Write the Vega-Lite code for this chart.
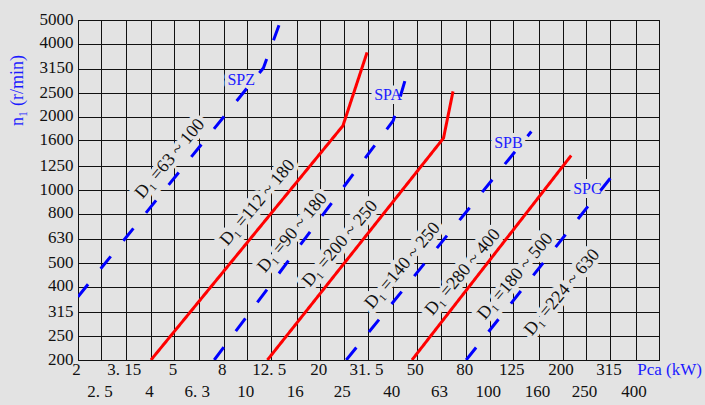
{
  "$schema": "https://vega.github.io/schema/vega-lite/v6.json",
  "width": 581,
  "height": 340,
  "autosize": {"type": "none"},
  "padding": {"left": 78, "top": 20, "right": 46, "bottom": 45},
  "background": "#e3e3e3",
  "config": {
    "view": {"stroke": "#111111", "strokeWidth": 1},
    "font": "Liberation Serif"
  },
  "datasets": {
    "lines": [
      {"s": "r1", "k": "red", "x": 4, "y": 200},
      {"s": "r1", "k": "red", "x": 24.8, "y": 1837},
      {"s": "r1", "k": "red", "x": 31.2, "y": 3680},
      {"s": "r2", "k": "red", "x": 12.1, "y": 200},
      {"s": "r2", "k": "red", "x": 64.5, "y": 1634},
      {"s": "r2", "k": "red", "x": 70.6, "y": 2543},
      {"s": "r3", "k": "red", "x": 47.8, "y": 200},
      {"s": "r3", "k": "red", "x": 217, "y": 1386},
      {"s": "SPZ", "k": "blue", "x": 2, "y": 364},
      {"s": "SPZ", "k": "blue", "x": 11.65, "y": 3177},
      {"s": "SPZ", "k": "blue", "x": 13.6, "y": 4850},
      {"s": "SPA", "k": "blue", "x": 7.3, "y": 200},
      {"s": "SPA", "k": "blue", "x": 40, "y": 1928},
      {"s": "SPA", "k": "blue", "x": 46.4, "y": 3186},
      {"s": "SPB", "k": "blue", "x": 25.6, "y": 200},
      {"s": "SPB", "k": "blue", "x": 148.6, "y": 1740},
      {"s": "SPC", "k": "blue", "x": 80, "y": 200},
      {"s": "SPC", "k": "blue", "x": 337.8, "y": 1222}
    ],
    "dl": [
      {"t": "D₁ =63 ~ 100", "x": 4.8, "y": 1344},
      {"t": "D₁ =112 ~ 180", "x": 11.03, "y": 886},
      {"t": "D₁ =90 ~ 180", "x": 15.38, "y": 667},
      {"t": "D₁ =200 ~ 250", "x": 24.16, "y": 601},
      {"t": "D₁ =140 ~ 250", "x": 43.8, "y": 488},
      {"t": "D₁ =280 ~ 400", "x": 77.5, "y": 459},
      {"t": "D₁ =180 ~ 500", "x": 127.7, "y": 441},
      {"t": "D₁ =224 ~ 630", "x": 199.1, "y": 379}
    ],
    "sp": [
      {"t": "SPZ", "x": 9.43, "y": 2843},
      {"t": "SPA", "x": 38.1, "y": 2466},
      {"t": "SPB", "x": 119.5, "y": 1564},
      {"t": "SPC", "x": 253.2, "y": 1012}
    ]
  },
  "encoding": {
    "x": {
      "field": "x",
      "type": "quantitative",
      "scale": {"type": "log", "domain": [2, 500], "nice": false},
      "axis": {
        "values": [2, 2.5, 3.15, 4, 5, 6.3, 8, 10, 12.5, 16, 20, 25, 31.5, 40, 50, 63, 80, 100, 125, 160, 200, 250, 315, 400, 500],
        "title": "Pca (kW)",
        "titleColor": "#1a1aff",
        "titleFont": "Liberation Serif",
        "titleFontSize": 17,
        "titleFontWeight": "normal",
        "titleX": 591,
        "titleY": 9,
        "titleAlign": "center",
        "titleBaseline": "middle",
        "titleAngle": 0,
        "grid": true,
        "gridColor": "#111111",
        "gridOpacity": 1,
        "gridWidth": 1,
        "ticks": false,
        "domain": false,
        "labelFont": "Liberation Serif",
        "labelFontSize": 17,
        "labelColor": "#111111",
        "labelOverlap": false,
        "labelFlush": false,
        "labelBound": false,
        "labelBaseline": "top",
        "labelOffset": -2,
        "labelExpr": "datum.value >= 500 ? '' : replace(toString(datum.value), '.', '. ')",
        "labelPadding": {
          "condition": {"test": "indexof([2.5,4,6.3,10,16,25,40,63,100,160,250,400], datum.value) >= 0", "value": 23},
          "value": 1
        }
      }
    },
    "y": {
      "field": "y",
      "type": "quantitative",
      "scale": {"type": "log", "domain": [200, 5000], "nice": false},
      "axis": {
        "values": [200, 250, 315, 400, 500, 630, 800, 1000, 1250, 1600, 2000, 2500, 3150, 4000, 5000],
        "format": "d",
        "title": "n₁ (r/min)",
        "titleColor": "#1a1aff",
        "titleFont": "Liberation Serif",
        "titleFontSize": 18,
        "titleFontWeight": "normal",
        "titleAngle": -90,
        "titleX": -61,
        "titleY": 70,
        "titleAlign": "center",
        "titleBaseline": "middle",
        "grid": true,
        "gridColor": "#111111",
        "gridOpacity": 1,
        "gridWidth": 1,
        "ticks": false,
        "domain": false,
        "labelFont": "Liberation Serif",
        "labelFontSize": 17,
        "labelColor": "#111111",
        "labelOverlap": false,
        "labelFlush": false,
        "labelBound": false,
        "labelPadding": 5,
        "labelOffset": -1
      }
    }
  },
  "layer": [
    {
      "data": {"name": "dl"},
      "mark": {"type": "text", "angle": -50, "fontSize": 18, "font": "Liberation Serif", "align": "center", "baseline": "middle", "fill": "#e3e3e3", "stroke": "#e3e3e3", "strokeWidth": 9, "strokeJoin": "round"},
      "encoding": {"text": {"field": "t"}}
    },
    {
      "data": {"name": "sp"},
      "mark": {"type": "text", "fontSize": 16, "font": "Liberation Serif", "align": "center", "baseline": "middle", "fill": "#e3e3e3", "stroke": "#e3e3e3", "strokeWidth": 8, "strokeJoin": "round"},
      "encoding": {"text": {"field": "t"}}
    },
    {
      "data": {"name": "lines"},
      "mark": {"type": "line", "strokeWidth": 3, "strokeCap": "butt", "clip": true},
      "encoding": {
        "detail": {"field": "s", "type": "nominal"},
        "color": {"field": "k", "type": "nominal", "scale": {"domain": ["red", "blue"], "range": ["#ff0000", "#0000ff"]}, "legend": null},
        "strokeDash": {"field": "k", "type": "nominal", "scale": {"domain": ["red", "blue"], "range": [[1, 0], [16, 20]]}, "legend": null}
      }
    },
    {
      "data": {"name": "dl"},
      "mark": {"type": "text", "angle": -50, "fontSize": 18, "font": "Liberation Serif", "align": "center", "baseline": "middle", "fill": "#111111"},
      "encoding": {"text": {"field": "t"}}
    },
    {
      "data": {"name": "sp"},
      "mark": {"type": "text", "fontSize": 16, "font": "Liberation Serif", "align": "center", "baseline": "middle", "fill": "#1a1aff"},
      "encoding": {"text": {"field": "t"}}
    }
  ]
}
